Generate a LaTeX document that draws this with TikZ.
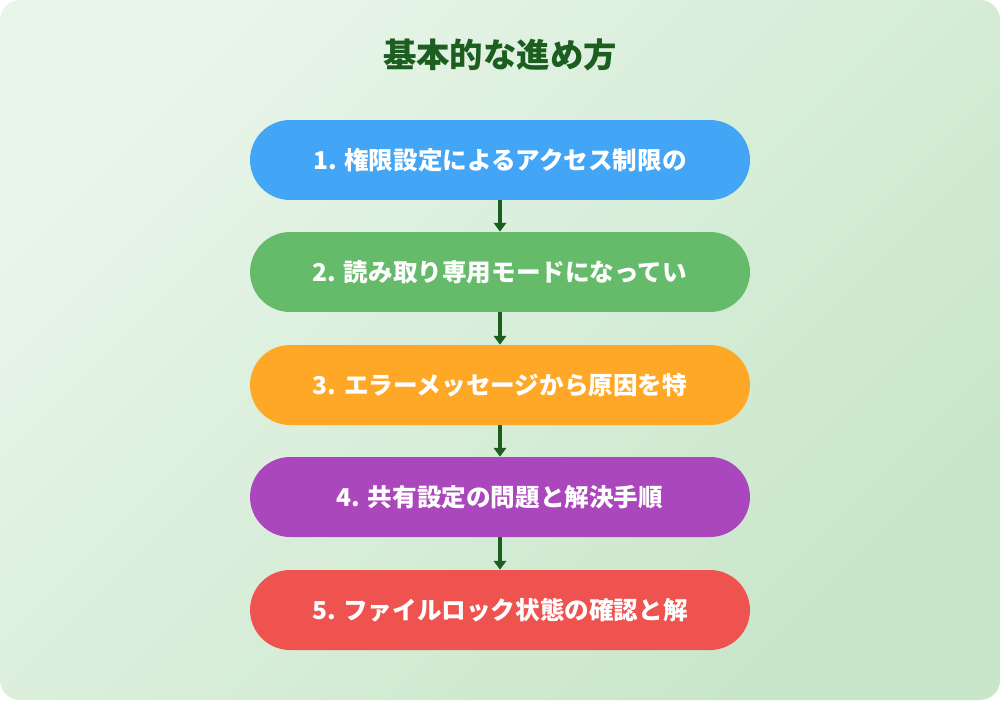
\documentclass[tikz,border=0pt]{standalone}
\usepackage{fontspec}
\setmainfont{Noto Sans CJK JP}
\usetikzlibrary{positioning, arrows.meta, shadings}
\definecolor{bgA}{HTML}{E8F5E9}
\definecolor{bgB}{HTML}{C8E6C9}
\definecolor{titlegreen}{HTML}{1B5E20}
\definecolor{stepA}{HTML}{42A5F5}
\definecolor{stepB}{HTML}{66BB6A}
\definecolor{stepC}{HTML}{FFA726}
\definecolor{stepD}{HTML}{AB47BC}
\definecolor{stepE}{HTML}{EF5350}

\begin{document}
\begin{tikzpicture}[x=0.02cm, y=-0.02cm,
		stepbox/.style={rounded corners=0.8cm, minimum width=10cm, minimum height=1.6cm,
			text=white, font=\bfseries\fontsize{14}{17}\selectfont},
		link/.style={-{Triangle[length=5pt,width=7pt]}, draw=titlegreen, fill=titlegreen, line width=2pt}]
		\useasboundingbox (0,0) rectangle (1000,700);
		\shade[top color=bgA, bottom color=bgB, shading angle=45, rounded corners=0.4cm] (0,0) rectangle (1000,700);
		\node[font=\bfseries\fontsize{19}{23}\selectfont, text=titlegreen] (title) at (500,55) {基本的な進め方};
		\node[stepbox, fill=stepA] (s1) at (500,160) {1. 権限設定によるアクセス制限の};
		\node[stepbox, fill=stepB] (s2) at (500,272) {2. 読み取り専用モードになってい};
		\node[stepbox, fill=stepC] (s3) at (500,385) {3. エラーメッセージから原因を特};
		\node[stepbox, fill=stepD] (s4) at (500,497) {4. 共有設定の問題と解決手順};
		\node[stepbox, fill=stepE] (s5) at (500,610) {5. ファイルロック状態の確認と解};
		\foreach \a/\b in {s1/s2, s2/s3, s3/s4, s4/s5}
			\draw[link] (\a) -- (\b);
	\end{tikzpicture}
\end{document}
